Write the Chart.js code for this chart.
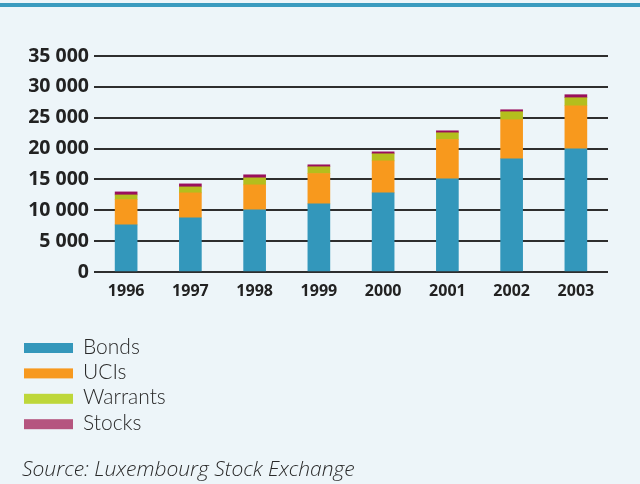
<!DOCTYPE html>
<html>
<head>
<meta charset="utf-8">
<script src="https://cdn.jsdelivr.net/npm/chart.js@4"></script>
<style>
  html, body { margin: 0; padding: 0; background: #edf5f9; }
  canvas { display: block; }
</style>
</head>
<body>
<canvas id="c" width="640" height="484"></canvas>
<script>
const categories = ['1996', '1997', '1998', '1999', '2000', '2001', '2002', '2003'];
const bonds    = [7630, 8760, 10060, 11040, 12820, 15090, 18340, 19960];
const ucis     = [4100, 4060, 4060, 4920, 5190, 6380, 6330, 6980];
const warrants = [760, 970, 1140, 1090, 1140, 1090, 1300, 1300];
const stocks   = [490, 490, 490, 320, 320, 320, 320, 490];
const seriesNames = ['Bonds', 'UCIs', 'Warrants', 'Stocks'];
const yTickLabels = ['0', '5 000', '10 000', '15 000', '20 000', '25 000', '30 000', '35 000'];
const sourceText = 'Source: Luxembourg Stock Exchange';

const barColors = ['#3397bb', '#f8991d', '#b4be1d', '#9a0f5c'];
const legendColors = ['#3497bb', '#f7991f', '#bed73a', '#b5557f'];

const backgroundPlugin = {
  id: 'bg',
  beforeDraw(chart) {
    const ctx = chart.ctx;
    ctx.save();
    ctx.fillStyle = '#edf5f9';
    ctx.fillRect(0, 0, chart.width, chart.height);
    ctx.fillStyle = '#3a9bbf';
    ctx.fillRect(0, 3, chart.width, 4);
    ctx.restore();
  }
};

const legendPlugin = {
  id: 'customLegend',
  afterDraw(chart) {
    const ctx = chart.ctx;
    ctx.save();
    const top0 = 343, step = 25.4;
    ctx.font = '300 21px Lato';
    ctx.textBaseline = 'alphabetic';
    seriesNames.forEach((name, i) => {
      const y = top0 + i * step;
      ctx.fillStyle = legendColors[i];
      ctx.fillRect(24, y, 49, 10);
      ctx.fillStyle = '#2a2a2a';
      ctx.fillText(name, 83, y + 10.5);
    });
    ctx.font = 'italic 300 21px "Open Sans"';
    ctx.fillStyle = '#2a2a2a';
    ctx.fillText(sourceText, 22, 476);
    ctx.restore();
  }
};

const series = [bonds, ucis, warrants, stocks];
new Chart(document.getElementById('c'), {
  type: 'bar',
  data: {
    labels: categories,
    datasets: series.map((vals, i) => ({
      label: seriesNames[i],
      data: vals,
      backgroundColor: barColors[i],
      borderWidth: 0,
      barThickness: 22
    }))
  },
  options: {
    responsive: false,
    animation: false,
    layout: { padding: { left: 0, right: 32, top: 56, bottom: 172 } },
    plugins: { legend: { display: false }, tooltip: { enabled: false } },
    scales: {
      x: {
        stacked: true,
        offset: true,
        grid: { display: false, drawTicks: false },
        border: { display: false },
        ticks: {
          padding: 10,
          color: '#222',
          font: { family: 'Open Sans', weight: 'bold', size: 16 }
        },
        afterFit(scale) { scale.height = 40; }
      },
      y: {
        stacked: true,
        min: 0,
        max: 35000,
        border: { display: false },
        grid: { color: '#2e2e2e', lineWidth: 2, drawTicks: false },
        ticks: {
          stepSize: 5000,
          padding: 5,
          color: '#222',
          font: { family: 'Open Sans', weight: 'bold', size: 19.5 },
          callback: (v, i) => yTickLabels[i]
        },
        afterFit(scale) { scale.width = 94; }
      }
    }
  },
  plugins: [backgroundPlugin, legendPlugin]
});
</script>
</body>
</html>
